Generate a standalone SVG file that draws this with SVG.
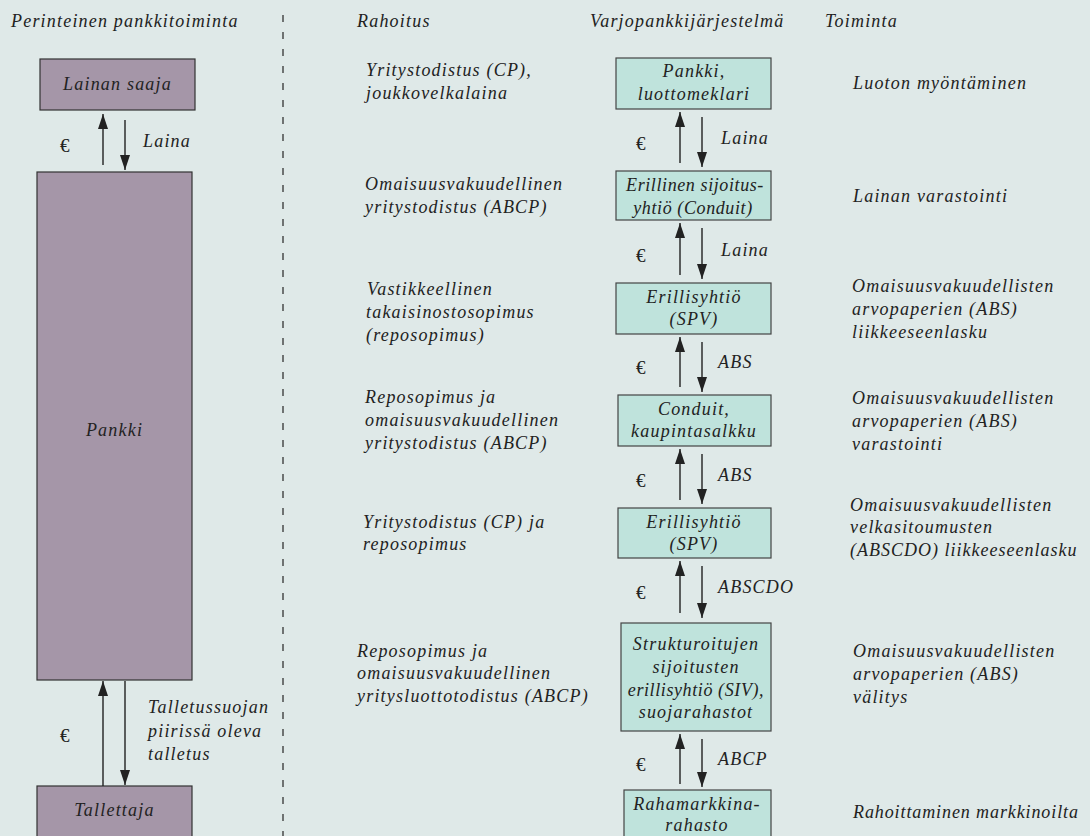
<svg xmlns="http://www.w3.org/2000/svg" width="1090" height="836" viewBox="0 0 1090 836">
<style>
text{font-family:"Liberation Serif","Times New Roman",serif;font-style:italic;font-size:18px;fill:#222;letter-spacing:1.2px}
.c{text-anchor:middle}
.n{letter-spacing:0.6px}
.eur{font-style:normal;letter-spacing:0;font-size:19px}
.p{fill:#a596a8;stroke:#333;stroke-width:1.2}
.t{fill:#bfe3dc;stroke:#444;stroke-width:1.2}
.a{stroke:#222;stroke-width:1.4;fill:none;marker-end:url(#ah)}
</style>
<defs>
<marker id="ah" markerUnits="userSpaceOnUse" markerWidth="15" markerHeight="10" viewBox="0 0 15 10" refX="15" refY="5" orient="auto">
<path d="M0,0 L15,5 L0,10 z" fill="#222"/>
</marker>
</defs>
<rect width="1090" height="836" fill="#dfe9e8"/>
<g id="headers">
<text x="11" y="27">Perinteinen pankkitoiminta</text>
<text x="357" y="27">Rahoitus</text>
<text x="590" y="27">Varjopankkijärjestelmä</text>
<text x="825" y="27">Toiminta</text>
</g>
<line x1="283" y1="15" x2="283" y2="836" stroke="#333" stroke-width="1.3" stroke-dasharray="7 10"/>
<g id="lainan-saaja"><rect class="p" x="40" y="59" width="155" height="51"/><text class="c" x="117.5" y="90">Lainan saaja</text></g>
<g id="pankki"><rect class="p" x="37" y="172" width="155" height="508"/><text class="c" x="114.5" y="436">Pankki</text></g>
<g id="tallettaja"><rect class="p" x="37" y="786" width="155" height="70"/><text class="c" x="114.5" y="816">Tallettaja</text></g>
<g id="m1"><rect class="t" x="616" y="58" width="155" height="51"/><text class="c" x="694" y="77">Pankki,</text><text class="c" x="694" y="100">luottomeklari</text></g>
<g id="m2"><rect class="t" x="616" y="171" width="155" height="49"/><text class="c n" x="695" y="191">Erillinen sijoitus-</text><text class="c n" x="693" y="214">yhtiö (Conduit)</text></g>
<g id="m3"><rect class="t" x="616" y="283" width="155" height="51"/><text class="c" x="694" y="303">Erillisyhtiö</text><text class="c" x="694" y="325">(SPV)</text></g>
<g id="m4"><rect class="t" x="618" y="395" width="153" height="51"/><text class="c" x="694" y="415">Conduit,</text><text class="c" x="694" y="437">kaupintasalkku</text></g>
<g id="m5"><rect class="t" x="618" y="508" width="153" height="50"/><text class="c" x="694" y="528">Erillisyhtiö</text><text class="c" x="694" y="550">(SPV)</text></g>
<g id="m6"><rect class="t" x="621" y="623" width="150" height="108"/><text class="c" x="696" y="650">Strukturoitujen</text><text class="c" x="696" y="673">sijoitusten</text><text class="c n" x="696" y="696">erillisyhtiö (SIV),</text><text class="c" x="696" y="718">suojarahastot</text></g>
<g id="m7"><rect class="t" x="624" y="790" width="147" height="70"/><text class="c" x="697" y="810">Rahamarkkina-</text><text class="c" x="697" y="831">rahasto</text></g>
<g id="connectors">
<line class="a" x1="103" y1="165" x2="103" y2="114"/>
<line class="a" x1="125" y1="120" x2="125" y2="170"/>
<line class="a" x1="103" y1="786" x2="103" y2="681"/>
<line class="a" x1="125" y1="681" x2="125" y2="785"/>
<line class="a" x1="680" y1="163" x2="680" y2="112"/>
<line class="a" x1="702" y1="117" x2="702" y2="167"/>
<line class="a" x1="680" y1="275" x2="680" y2="223"/>
<line class="a" x1="702" y1="228" x2="702" y2="279"/>
<line class="a" x1="680" y1="387" x2="680" y2="337"/>
<line class="a" x1="702" y1="342" x2="702" y2="392"/>
<line class="a" x1="680" y1="500" x2="680" y2="449"/>
<line class="a" x1="702" y1="454" x2="702" y2="504"/>
<line class="a" x1="680" y1="613" x2="680" y2="561"/>
<line class="a" x1="702" y1="566" x2="702" y2="618"/>
<line class="a" x1="680" y1="784" x2="680" y2="734"/>
<line class="a" x1="702" y1="739" x2="702" y2="787"/>
<text class="eur" x="60" y="152">€</text>
<text x="143" y="147">Laina</text>
<text class="eur" x="60" y="742">€</text>
<text x="148" y="713">Talletussuojan</text>
<text x="148" y="737">piirissä oleva</text>
<text x="148" y="760">talletus</text>
<text class="eur" x="636" y="150">€</text><text x="721" y="144">Laina</text>
<text class="eur" x="636" y="262">€</text><text x="721" y="256">Laina</text>
<text class="eur" x="636" y="374">€</text><text x="718" y="368">ABS</text>
<text class="eur" x="636" y="487">€</text><text x="718" y="481">ABS</text>
<text class="eur" x="636" y="599">€</text><text x="718" y="593">ABSCDO</text>
<text class="eur" x="636" y="771">€</text><text x="718" y="765">ABCP</text>
</g>
<g id="rahoitus">
<text x="366" y="76">Yritystodistus (CP),</text>
<text x="366" y="99">joukkovelkalaina</text>
<text x="365" y="190">Omaisuusvakuudellinen</text>
<text x="365" y="213">yritystodistus (ABCP)</text>
<text x="367" y="295">Vastikkeellinen</text>
<text x="366" y="318">takaisinostosopimus</text>
<text x="366" y="341">(reposopimus)</text>
<text x="365" y="403">Reposopimus ja</text>
<text x="365" y="426">omaisuusvakuudellinen</text>
<text x="365" y="449">yritystodistus (ABCP)</text>
<text x="363" y="528">Yritystodistus (CP) ja</text>
<text x="363" y="550">reposopimus</text>
<text x="357" y="657">Reposopimus ja</text>
<text x="357" y="679">omaisuusvakuudellinen</text>
<text x="357" y="702">yritysluottotodistus (ABCP)</text>
</g>
<g id="toiminta">
<text x="853" y="89">Luoton myöntäminen</text>
<text x="853" y="202">Lainan varastointi</text>
<text x="852" y="292">Omaisuusvakuudellisten</text>
<text x="852" y="315">arvopaperien (ABS)</text>
<text x="852" y="338">liikkeeseenlasku</text>
<text x="852" y="404">Omaisuusvakuudellisten</text>
<text x="852" y="427">arvopaperien (ABS)</text>
<text x="852" y="450">varastointi</text>
<text x="850" y="511">Omaisuusvakuudellisten</text>
<text x="850" y="533">velkasitoumusten</text>
<text x="850" y="556" style="letter-spacing:1px">(ABSCDO) liikkeeseenlasku</text>
<text x="853" y="657">Omaisuusvakuudellisten</text>
<text x="853" y="680">arvopaperien (ABS)</text>
<text x="853" y="703">välitys</text>
<text x="853" y="818" style="letter-spacing:0.9px">Rahoittaminen markkinoilta</text>
</g>
</svg>
